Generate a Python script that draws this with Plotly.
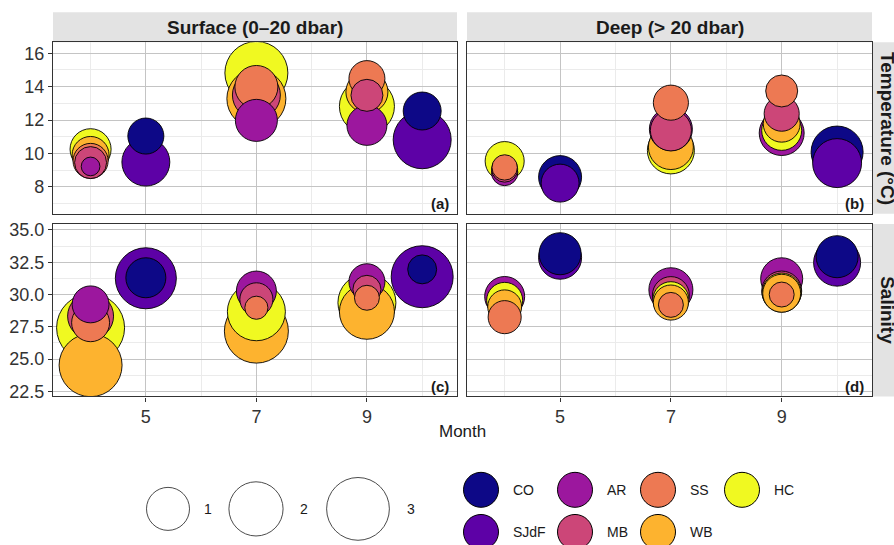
import math
import plotly.graph_objects as go

# ---------------- data ----------------
site_names = ["CO", "SJdF", "AR", "MB", "SS", "WB", "HC"]
site_colors = ["#0D0887", "#5D01A6", "#9C179E", "#CC4678", "#ED7953", "#FDB32F", "#F0F921"]

# (a) Surface temperature
a_month = [4, 4, 4, 4, 4, 5, 5, 7, 7, 7, 7, 7, 9, 9, 9, 9, 9, 10, 10]
a_site = ["HC", "WB", "SS", "MB", "AR", "CO", "SJdF", "HC", "WB", "MB", "SS", "AR",
          "HC", "WB", "AR", "SS", "MB", "CO", "SJdF"]
a_value = [10.25, 9.91, 9.55, 9.45, 9.22, 11.04, 9.48, 14.82, 13.28, 13.5, 13.98, 11.98,
           12.82, 13.68, 11.68, 14.48, 13.48, 12.54, 10.82]
a_size = [0.86, 0.60, 0.50, 0.35, 0.01, 0.55, 1.40, 3.03, 2.54, 1.40, 1.00, 0.93,
          2.09, 0.93, 0.79, 0.55, 0.35, 0.66, 2.42]

# (b) Deep temperature
b_month = [4, 4, 4, 4, 5, 5, 7, 7, 7, 7, 7, 9, 9, 9, 9, 9, 10, 10]
b_site = ["HC", "AR", "MB", "SS", "CO", "SJdF", "HC", "WB", "AR", "MB", "SS",
          "AR", "HC", "WB", "MB", "SS", "CO", "SJdF"]
b_value = [9.54, 8.86, 9.06, 9.16, 8.58, 8.22, 10.18, 10.38, 11.45, 11.38, 13.04,
           11.22, 11.38, 11.78, 12.38, 13.74, 10.08, 9.42]
b_size = [0.73, 0.15, 0.14, 0.12, 1.00, 0.66, 1.32, 1.15, 1.00, 0.86, 0.50,
          1.15, 0.79, 0.60, 0.50, 0.35, 1.78, 1.49]

# (c) Surface salinity
c_month = [4, 4, 4, 4, 4, 5, 5, 7, 7, 7, 7, 7, 9, 9, 9, 9, 9, 10, 10]
c_site = ["HC", "WB", "MB", "SS", "AR", "SJdF", "CO", "WB", "HC", "AR", "MB", "SS",
          "HC", "WB", "AR", "MB", "SS", "SJdF", "CO"]
c_value = [27.43, 24.53, 28.33, 27.82, 29.24, 31.26, 31.3, 27.17, 28.67, 30.27, 29.63, 28.98,
           29.37, 28.67, 30.99, 30.4, 29.75, 31.38, 31.95]
c_size = [3.71, 3.03, 1.23, 0.66, 0.60, 2.78, 0.79, 3.16, 2.42, 0.79, 0.40, 0.07,
          2.42, 2.09, 0.55, 0.20, 0.11, 2.90, 0.23]

# (d) Deep salinity
d_month = [4, 4, 4, 4, 5, 5, 7, 7, 7, 7, 7, 9, 9, 9, 9, 9, 10, 10]
d_site = ["AR", "HC", "WB", "SS", "SJdF", "CO", "AR", "MB", "HC", "WB", "SS",
          "AR", "MB", "HC", "WB", "SS", "SJdF", "CO"]
d_value = [29.85, 29.55, 29.05, 28.25, 32.85, 33.16, 30.37, 29.96, 29.6, 29.38, 29.2,
           31.22, 30.27, 30.15, 30.1, 30.0, 32.47, 32.93]
d_size = [0.79, 0.55, 0.44, 0.40, 1.00, 0.93, 1.08, 0.60, 0.55, 0.50, 0.11,
          0.93, 0.79, 0.73, 0.66, 0.11, 1.32, 0.93]

size_legend_values = [1, 2, 3]
col_titles = ["Surface (0\u201320 dbar)", "Deep (> 20 dbar)"]
row_titles = ["Temperature (\u00b0C)", "Salinity"]
panel_tags = ["(a)", "(b)", "(c)", "(d)"]
x_ticks = [5, 7, 9]
temp_ticks = [8, 10, 12, 14, 16]
sal_ticks = [22.5, 25, 27.5, 30, 32.5, 35]

# ---------------- helpers ----------------
W, H = 894, 545
FONT = "Liberation Sans, Arial, Helvetica, sans-serif"
color_of = dict(zip(site_names, site_colors))

# small vertical calibration of the page capture (observed: shown = 3.9 + 0.98 * layout)
V_OFF, V_SCALE = 3.9, 0.98


def diam(s):
    # area-type size scale: diameter grows with sqrt of value
    return 16 + 27 * math.sqrt(max(s, 0))


def px_x(p):
    return p / W


def ly(p):
    # target on-screen pixel row -> layout pixel row
    return (p - V_OFF) / V_SCALE


def px_y(p):
    return 1 - ly(p) / H


# panel pixel boxes (target on-screen pixels)
col_px = [(53, 457), (467, 872)]
row_px = [(42, 213), (223, 395)]

fig = go.Figure()

panels = [
    (a_month, a_site, a_value, a_size),
    (b_month, b_site, b_value, b_size),
    (c_month, c_site, c_value, c_size),
    (d_month, d_site, d_value, d_size),
]

for i, (mo, st, val, sz) in enumerate(panels):
    order = sorted(range(len(sz)), key=lambda k: -sz[k])
    fig.add_trace(go.Scatter(
        x=[mo[k] for k in order],
        y=[val[k] for k in order],
        mode="markers",
        marker=dict(
            size=[diam(sz[k]) for k in order],
            color=[color_of[st[k]] for k in order],
            line=dict(color="black", width=0.9),
            opacity=1,
        ),
        xaxis="x" if i == 0 else f"x{i+1}",
        yaxis="y" if i == 0 else f"y{i+1}",
        showlegend=False,
        hoverinfo="skip",
    ))

layout = dict(
    width=W, height=H,
    margin=dict(l=0, r=0, t=0, b=0),
    paper_bgcolor="white",
    plot_bgcolor="rgba(0,0,0,0)",
    font=dict(family=FONT, color="#333333"),
    showlegend=False,
)

for i in range(4):
    r, c = divmod(i, 2)
    xname = "xaxis" if i == 0 else f"xaxis{i+1}"
    yname = "yaxis" if i == 0 else f"yaxis{i+1}"
    xa = "x" if i == 0 else f"x{i+1}"
    ya = "y" if i == 0 else f"y{i+1}"
    show_x = (r == 1)
    show_y = (c == 0)
    layout[xname] = dict(
        domain=[px_x(col_px[c][0]), px_x(col_px[c][1])],
        anchor=ya, range=[3.32, 10.63],
        tickmode="array", tickvals=x_ticks,
        showticklabels=show_x, ticks="outside" if show_x else "",
        ticklen=4, tickwidth=1.1, tickcolor="#333333",
        tickfont=dict(size=18, color="#333333", family=FONT),
        showgrid=True, gridcolor="#c4c4c4", gridwidth=1.4,
        minor=dict(tickmode="array", tickvals=[4, 6, 8, 10], showgrid=True,
                   gridcolor="#ebebeb", gridwidth=0.8),
        showline=True, mirror=True, linecolor="#333333", linewidth=1.2,
        zeroline=False,
    )
    if r == 0:
        yr = [6.38, 16.66]
        tv = temp_ticks
        minor_tv = [7, 9, 11, 13, 15]
        tfmt = "d"
    else:
        yr = [22.11, 35.47]
        tv = sal_ticks
        minor_tv = [23.75, 26.25, 28.75, 31.25, 33.75]
        tfmt = ".1f"
    layout[yname] = dict(
        domain=[px_y(row_px[r][1]), px_y(row_px[r][0])],
        anchor=xa, range=yr,
        tickmode="array", tickvals=tv, tickformat=tfmt,
        showticklabels=show_y, ticks="outside" if show_y else "",
        ticklen=4, tickwidth=1.1, tickcolor="#333333",
        tickfont=dict(size=18, color="#333333", family=FONT),
        showgrid=True, gridcolor="#c4c4c4", gridwidth=1.4,
        minor=dict(tickmode="array", tickvals=minor_tv, showgrid=True,
                   gridcolor="#ebebeb", gridwidth=0.8),
        showline=True, mirror=True, linecolor="#333333", linewidth=1.2,
        zeroline=False,
    )

# auxiliary pixel axis for the legend area (values are target on-screen pixel rows)
leg_top = 436
layout["xaxis5"] = dict(domain=[0, 1], anchor="y5", range=[0, W], visible=False, fixedrange=True)
layout["yaxis5"] = dict(domain=[0, px_y(leg_top)], anchor="x5",
                        range=[V_OFF + V_SCALE * H, leg_top], visible=False, fixedrange=True)

fig.update_layout(**layout)

shapes = []
annotations = []

# column strips (top)
for c, title in enumerate(col_titles):
    shapes.append(dict(type="rect", xref="paper", yref="paper",
                       x0=px_x(col_px[c][0]), x1=px_x(col_px[c][1]),
                       y0=px_y(42), y1=px_y(12),
                       fillcolor="#e3e3e3", line=dict(width=0), layer="below"))
    annotations.append(dict(text=f"<b>{title}</b>", xref="paper", yref="paper",
                            x=px_x((col_px[c][0] + col_px[c][1]) / 2), y=px_y(27),
                            showarrow=False, font=dict(size=19, color="#1a1a1a", family=FONT),
                            xanchor="center", yanchor="middle"))
# row strips (right)
for r, title in enumerate(row_titles):
    shapes.append(dict(type="rect", xref="paper", yref="paper",
                       x0=px_x(872), x1=px_x(904),
                       y0=px_y(row_px[r][1]), y1=px_y(row_px[r][0]),
                       fillcolor="#e3e3e3", line=dict(width=0), layer="below"))
    annotations.append(dict(text=f"<b>{title}</b>", xref="paper", yref="paper",
                            x=px_x(888), y=px_y((row_px[r][0] + row_px[r][1]) / 2),
                            showarrow=False, textangle=90,
                            font=dict(size=19, color="#1a1a1a", family=FONT),
                            xanchor="center", yanchor="middle"))
# panel tags
for i, tag in enumerate(panel_tags):
    r, c = divmod(i, 2)
    annotations.append(dict(text=f"<b>{tag}</b>", xref="paper", yref="paper",
                            x=px_x(col_px[c][1] - 6), y=px_y(row_px[r][1] - 10),
                            showarrow=False, xanchor="right", yanchor="middle",
                            font=dict(size=15, color="#1a1a1a", family=FONT)))
# axis title
annotations.append(dict(text="Month", xref="paper", yref="paper",
                        x=px_x((col_px[0][0] + col_px[1][1]) / 2), y=px_y(430),
                        showarrow=False, xanchor="center", yanchor="middle",
                        font=dict(size=17, color="#1a1a1a", family=FONT)))

# size legend
size_key_x = [168, 256, 358]
size_label_x = [208, 304, 411]
size_key_y = 507
fig.add_trace(go.Scatter(
    x=size_key_x, y=[size_key_y] * len(size_legend_values), mode="markers",
    marker=dict(size=[diam(v) for v in size_legend_values], color="white",
                line=dict(color="black", width=1)),
    xaxis="x5", yaxis="y5", cliponaxis=False, showlegend=False, hoverinfo="skip"))
for tx, v in zip(size_label_x, size_legend_values):
    annotations.append(dict(text=str(v), xref="x5", yref="y5",
                            x=tx, y=size_key_y, showarrow=False,
                            xanchor="center", yanchor="middle",
                            font=dict(size=14, color="#1a1a1a", family=FONT)))

# colour legend (column-major, 2 rows)
col_x = [481, 575, 658, 742]
row_y = [488, 530]
lx, lyy = [], []
for idx, name in enumerate(site_names):
    cx = col_x[idx // 2]
    cy = row_y[idx % 2]
    lx.append(cx)
    lyy.append(cy)
    annotations.append(dict(text=name, xref="x5", yref="y5", x=cx + 30, y=cy,
                            showarrow=False, xanchor="left", yanchor="middle",
                            font=dict(size=14, color="#1a1a1a", family=FONT)))
fig.add_trace(go.Scatter(
    x=lx, y=lyy, mode="markers",
    marker=dict(size=35, color=site_colors, line=dict(color="black", width=1)),
    xaxis="x5", yaxis="y5", cliponaxis=False, showlegend=False, hoverinfo="skip"))

fig.update_layout(shapes=shapes, annotations=annotations)
fig.write_html("out.html")
